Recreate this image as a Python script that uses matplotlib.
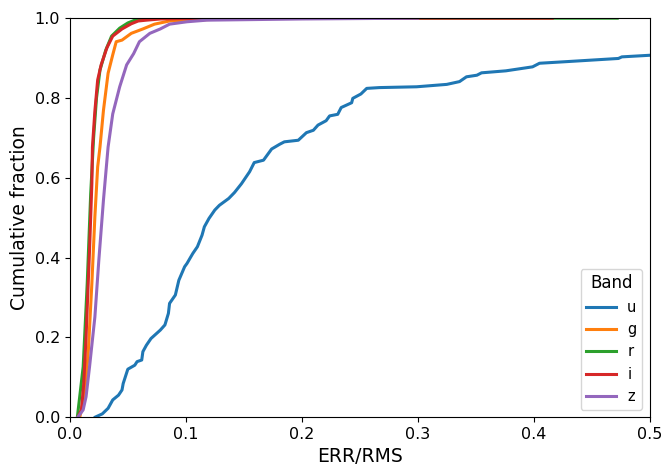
import numpy as np
import matplotlib
matplotlib.use("Agg")
import matplotlib.pyplot as plt

# cumulative curves (ERR/RMS, fraction)
u_x = [0.022, 0.028, 0.033, 0.037, 0.042, 0.045, 0.046, 0.050, 0.056, 0.058, 0.062, 0.063,
       0.066, 0.070, 0.078, 0.082, 0.085, 0.086, 0.091, 0.094, 0.099, 0.101, 0.106, 0.110,
       0.114, 0.116, 0.120, 0.125, 0.129, 0.137, 0.142, 0.148, 0.155, 0.159, 0.167, 0.171,
       0.174, 0.181, 0.185, 0.197, 0.204, 0.210, 0.214, 0.221, 0.224, 0.231, 0.234, 0.243,
       0.244, 0.251, 0.256, 0.267, 0.299, 0.325, 0.336, 0.342, 0.351, 0.355, 0.376, 0.399,
       0.405, 0.428, 0.473, 0.476, 0.500, 0.520]
u_y = [0.000, 0.008, 0.022, 0.043, 0.055, 0.068, 0.084, 0.120, 0.130, 0.139, 0.143, 0.164,
       0.180, 0.197, 0.218, 0.231, 0.260, 0.285, 0.306, 0.343, 0.377, 0.385, 0.410, 0.427,
       0.456, 0.477, 0.498, 0.519, 0.531, 0.548, 0.563, 0.585, 0.615, 0.638, 0.644, 0.660,
       0.672, 0.684, 0.690, 0.694, 0.713, 0.719, 0.732, 0.743, 0.755, 0.759, 0.776, 0.788,
       0.799, 0.810, 0.824, 0.826, 0.828, 0.834, 0.841, 0.853, 0.857, 0.863, 0.868, 0.878,
       0.887, 0.891, 0.899, 0.903, 0.907, 0.911]

g_x = [0.0086, 0.013, 0.016, 0.019, 0.0216, 0.024, 0.026, 0.029, 0.033, 0.037, 0.040,
       0.045, 0.053, 0.063, 0.073, 0.086, 0.106, 0.150, 0.250]
g_y = [0.000, 0.059, 0.168, 0.335, 0.502, 0.627, 0.677, 0.769, 0.862, 0.908, 0.941,
       0.945, 0.962, 0.973, 0.985, 0.993, 0.995, 1.000, 1.000]

r_x = [0.0065, 0.0115, 0.015, 0.018, 0.0205, 0.023, 0.026, 0.031, 0.036, 0.043, 0.050,
       0.056, 0.065, 0.080, 0.120, 0.472]
r_y = [0.000, 0.126, 0.335, 0.560, 0.700, 0.800, 0.870, 0.920, 0.955, 0.975, 0.988,
       0.995, 0.998, 1.000, 1.000, 1.000]

i_x = [0.007, 0.010, 0.012, 0.014, 0.017, 0.019, 0.0195, 0.0216, 0.024, 0.027, 0.032,
       0.037, 0.045, 0.053, 0.059, 0.066, 0.078, 0.120, 0.416]
i_y = [0.000, 0.018, 0.084, 0.201, 0.419, 0.586, 0.677, 0.767, 0.845, 0.883, 0.926,
       0.955, 0.973, 0.986, 0.993, 0.995, 0.998, 1.000, 1.000]

z_x = [0.007, 0.0115, 0.014, 0.017, 0.0216, 0.025, 0.029, 0.032, 0.033, 0.037, 0.043,
       0.049, 0.055, 0.060, 0.069, 0.078, 0.086, 0.101, 0.118, 0.200, 0.300]
z_y = [0.000, 0.018, 0.051, 0.126, 0.251, 0.393, 0.544, 0.644, 0.677, 0.760, 0.828,
       0.883, 0.911, 0.941, 0.962, 0.973, 0.985, 0.991, 0.995, 0.998, 1.000]

bands = ["u", "g", "r", "i", "z"]
colors = ["#1f77b4", "#ff7f0e", "#2ca02c", "#d62728", "#9467bd"]
curves = [(u_x, u_y), (g_x, g_y), (r_x, r_y), (i_x, i_y), (z_x, z_y)]

fig = plt.figure(figsize=(6.65, 4.66), dpi=100)
ax = fig.add_axes([0.105, 0.105, 0.872, 0.856])

for b, c, (x, y) in zip(bands, colors, curves):
    ax.plot(x, y, color=c, lw=2.2, label=b)

ax.set_xlim(0, 0.5)
ax.set_ylim(0, 1)
ax.tick_params(labelsize=11.5)
ax.set_xlabel("ERR/RMS", fontsize=13.5)
ax.set_ylabel("Cumulative fraction", fontsize=13.5)
ax.legend(title="Band", loc="lower right", fontsize=10.5, title_fontsize=12)

fig.savefig("out.png", dpi=100)
